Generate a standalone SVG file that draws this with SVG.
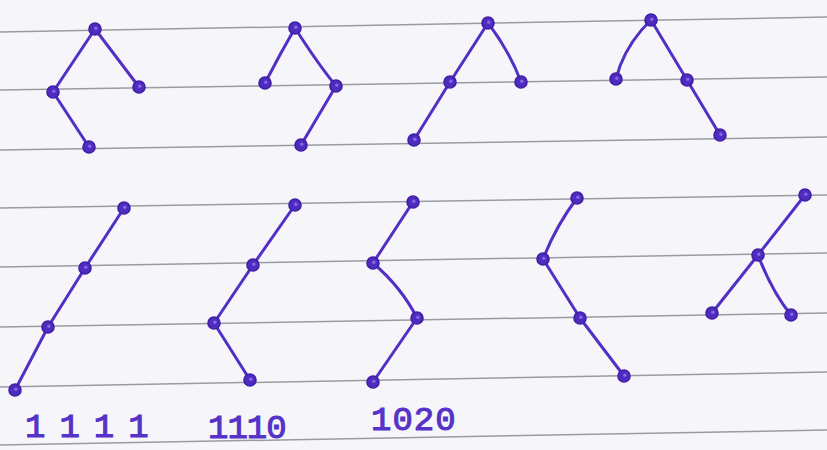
<svg xmlns="http://www.w3.org/2000/svg" width="827" height="450" viewBox="0 0 827 450">
<style>
.rule{stroke:#9a9aa2;stroke-width:1.5;fill:none}
.edge{stroke:#5230c6;stroke-width:3;fill:none;stroke-linecap:round;stroke-linejoin:round}
.node{fill:#4f2cc0;stroke:#3f1fa6;stroke-width:1.6}
.hole{fill:#8468e4}
.lbl{font-family:"Liberation Mono","DejaVu Sans Mono",monospace;font-size:34px;fill:#5633c8;stroke:#5633c8;stroke-width:1.1}
</style>
<defs>
<g id="dot"><circle class="node" r="6"/><circle class="hole" cx="0.8" cy="-0.8" r="1.7"/></g>
</defs>
<rect width="827" height="450" fill="#f6f6fa"/>
<g id="paper-lines">
<line class="rule" x1="0" y1="32" x2="827" y2="17"/>
<line class="rule" x1="0" y1="90" x2="827" y2="77"/>
<line class="rule" x1="0" y1="150" x2="827" y2="137"/>
<line class="rule" x1="0" y1="208" x2="827" y2="195"/>
<line class="rule" x1="0" y1="267" x2="827" y2="253"/>
<line class="rule" x1="0" y1="327" x2="827" y2="313"/>
<line class="rule" x1="0" y1="387" x2="827" y2="372"/>
<line class="rule" x1="0" y1="445" x2="827" y2="430"/>
</g>
<g id="connectors">
<path class="edge" d="M95,29 L53,92"/>
<path class="edge" d="M95,29 L139,87"/>
<path class="edge" d="M53,92 L89,147"/>
<path class="edge" d="M295,28 Q280,54 265,83"/>
<path class="edge" d="M295,28 Q318,64 336,86"/>
<path class="edge" d="M336,86 L301,145"/>
<path class="edge" d="M488,23 L450,82"/>
<path class="edge" d="M488,23 Q510,52 521,82"/>
<path class="edge" d="M450,82 L414,140"/>
<path class="edge" d="M651,20 Q630,40 620,66 L616,79"/>
<path class="edge" d="M651,20 L687,80"/>
<path class="edge" d="M687,80 L720,135"/>
<path class="edge" d="M124,208 L85,268"/>
<path class="edge" d="M85,268 L48,327"/>
<path class="edge" d="M48,327 L15,390"/>
<path class="edge" d="M295,205 L253,265"/>
<path class="edge" d="M253,265 L214,323"/>
<path class="edge" d="M214,323 L250,380"/>
<path class="edge" d="M413,202 L373,263"/>
<path class="edge" d="M373,263 Q402,288 417,318"/>
<path class="edge" d="M417,318 L373,382"/>
<path class="edge" d="M577,198 Q556,226 543,259"/>
<path class="edge" d="M543,259 L580,318"/>
<path class="edge" d="M580,318 L624,376"/>
<path class="edge" d="M805,195 L758,255"/>
<path class="edge" d="M758,255 L712,313"/>
<path class="edge" d="M758,255 Q772,292 791,315"/>
</g>
<g id="t1-n1"><use href="#dot" x="95" y="29"/></g>
<g id="t1-n2"><use href="#dot" x="53" y="92"/></g>
<g id="t1-n3"><use href="#dot" x="139" y="87"/></g>
<g id="t1-n4"><use href="#dot" x="89" y="147"/></g>
<g id="t2-n1"><use href="#dot" x="295" y="28"/></g>
<g id="t2-n2"><use href="#dot" x="265" y="83"/></g>
<g id="t2-n3"><use href="#dot" x="336" y="86"/></g>
<g id="t2-n4"><use href="#dot" x="301" y="145"/></g>
<g id="t3-n1"><use href="#dot" x="488" y="23"/></g>
<g id="t3-n2"><use href="#dot" x="450" y="82"/></g>
<g id="t3-n3"><use href="#dot" x="521" y="82"/></g>
<g id="t3-n4"><use href="#dot" x="414" y="140"/></g>
<g id="t4-n1"><use href="#dot" x="651" y="20"/></g>
<g id="t4-n2"><use href="#dot" x="616" y="79"/></g>
<g id="t4-n3"><use href="#dot" x="687" y="80"/></g>
<g id="t4-n4"><use href="#dot" x="720" y="135"/></g>
<g id="t5-n1"><use href="#dot" x="124" y="208"/></g>
<g id="t5-n2"><use href="#dot" x="85" y="268"/></g>
<g id="t5-n3"><use href="#dot" x="48" y="327"/></g>
<g id="t5-n4"><use href="#dot" x="15" y="390"/></g>
<g id="t6-n1"><use href="#dot" x="295" y="205"/></g>
<g id="t6-n2"><use href="#dot" x="253" y="265"/></g>
<g id="t6-n3"><use href="#dot" x="214" y="323"/></g>
<g id="t6-n4"><use href="#dot" x="250" y="380"/></g>
<g id="t7-n1"><use href="#dot" x="413" y="202"/></g>
<g id="t7-n2"><use href="#dot" x="373" y="263"/></g>
<g id="t7-n3"><use href="#dot" x="417" y="318"/></g>
<g id="t7-n4"><use href="#dot" x="373" y="382"/></g>
<g id="t8-n1"><use href="#dot" x="577" y="198"/></g>
<g id="t8-n2"><use href="#dot" x="543" y="259"/></g>
<g id="t8-n3"><use href="#dot" x="580" y="318"/></g>
<g id="t8-n4"><use href="#dot" x="624" y="376"/></g>
<g id="t9-n1"><use href="#dot" x="805" y="195"/></g>
<g id="t9-n2"><use href="#dot" x="758" y="255"/></g>
<g id="t9-n3"><use href="#dot" x="712" y="313"/></g>
<g id="t9-n4"><use href="#dot" x="791" y="315"/></g>
<g id="labels">
<text class="lbl" x="25" y="437" letter-spacing="14">1111</text>
<text class="lbl" x="208" y="438" letter-spacing="-1">1110</text>
<text class="lbl" x="371" y="430" letter-spacing="1">1020</text>
</g>
</svg>
